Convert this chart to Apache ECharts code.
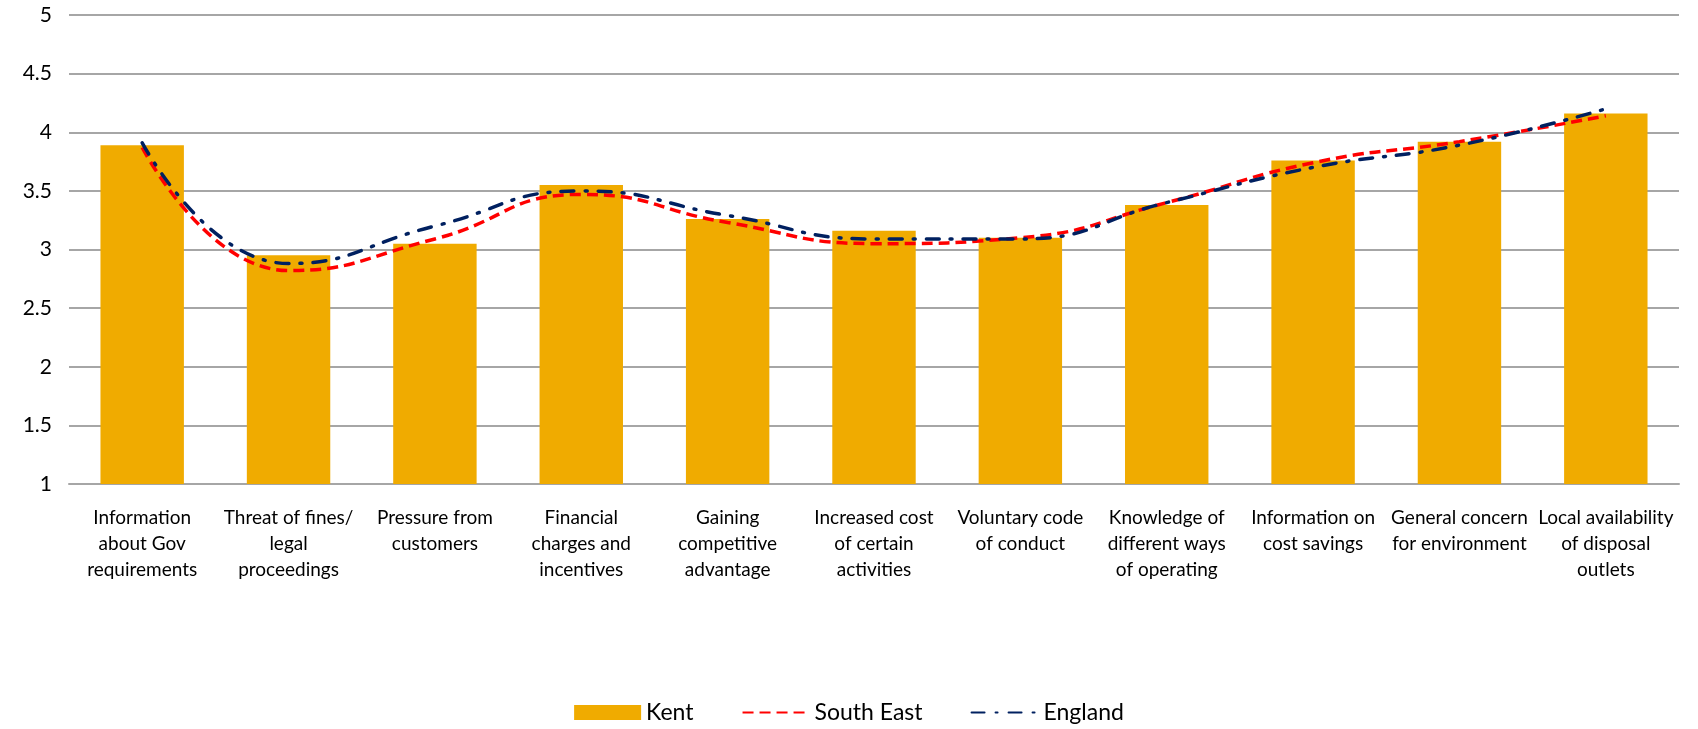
<!DOCTYPE html>
<html>
<head>
<meta charset="utf-8">
<script src="https://cdn.jsdelivr.net/npm/echarts@6/dist/echarts.min.js"></script>
<style>
  html, body { margin: 0; padding: 0; background: #fff; }
  #chart { width: 1698px; height: 729px; }
</style>
</head>
<body>
<div id="chart"></div>
<script>
// categories (line breaks as in the picture)
var categories = [
  'Information\nabout Gov\nrequirements',
  'Threat of fines/\nlegal\nproceedings',
  'Pressure from\ncustomers',
  'Financial\ncharges and\nincentives',
  'Gaining\ncompetitive\nadvantage',
  'Increased cost\nof certain\nactivities',
  'Voluntary code\nof conduct',
  'Knowledge of\ndifferent ways\nof operating',
  'Information on\ncost savings',
  'General concern\nfor environment',
  'Local availability\nof disposal\noutlets'
]
var kent = [3.89, 2.95, 3.05, 3.55, 3.26, 3.16, 3.10, 3.38, 3.76, 3.92, 4.16]
var southEast = [3.87, 2.82, 3.09, 3.47, 3.23, 3.05, 3.10, 3.40, 3.74, 3.92, 4.14]
var england = [3.91, 2.88, 3.20, 3.50, 3.29, 3.09, 3.09, 3.40, 3.70, 3.89, 4.20]

var font = 'Lato, "Open Sans", sans-serif'
var myChart = echarts.init(document.getElementById('chart'))
myChart.setOption({
  animation: false,
  textStyle: { fontFamily: font },
  grid: {
    left: 69,
    right: 19,
    top: 15,
    bottom: 245
  },
  legend: {
    bottom: 0,
    left: 'center',
    itemGap: 48,
    itemWidth: 67,
    itemHeight: 15,
    textStyle: { color: '#000', fontSize: 23, fontFamily: font },
    data: [
      { name: 'Kent', icon: 'rect' },
      { name: 'South East', itemStyle: { opacity: 0 } },
      { name: 'England', itemStyle: { opacity: 0 } }
    ]
  },
  xAxis: {
    type: 'category',
    data: categories,
    axisTick: { show: false },
    axisLine: { lineStyle: { color: '#a6a6a6', width: 2 } },
    axisLabel: {
      interval: 0,
      margin: 21,
      color: '#000',
      fontSize: 19,
      lineHeight: 26,
      fontFamily: font
    }
  },
  yAxis: {
    type: 'value',
    min: 1,
    max: 5,
    interval: 0.5,
    axisLine: { show: false },
    axisTick: { show: false },
    axisLabel: {
      color: '#000',
      fontSize: 21,
      margin: 17,
      fontFamily: font
    },
    splitLine: {
      lineStyle: { color: '#a6a6a6', width: 2 }
    }
  },
  series: [
    {
      name: 'Kent',
      type: 'bar',
      data: kent,
      barCategoryGap: '43%',
      itemStyle: { color: '#F0AB00' }
    },
    {
      name: 'South East',
      type: 'line',
      data: southEast,
      smooth: 0.5,
      symbol: 'none',
      itemStyle: { color: '#FF0000' },
      lineStyle: { color: '#FF0000', width: 3.5, type: [11, 6] }
    },
    {
      name: 'England',
      type: 'line',
      data: england,
      smooth: 0.5,
      symbol: 'none',
      itemStyle: { color: '#002060' },
      lineStyle: { color: '#002060', width: 3.5, type: [13, 11, 2, 11], cap: 'round' }
    }
  ]
})
</script>
</body>
</html>
